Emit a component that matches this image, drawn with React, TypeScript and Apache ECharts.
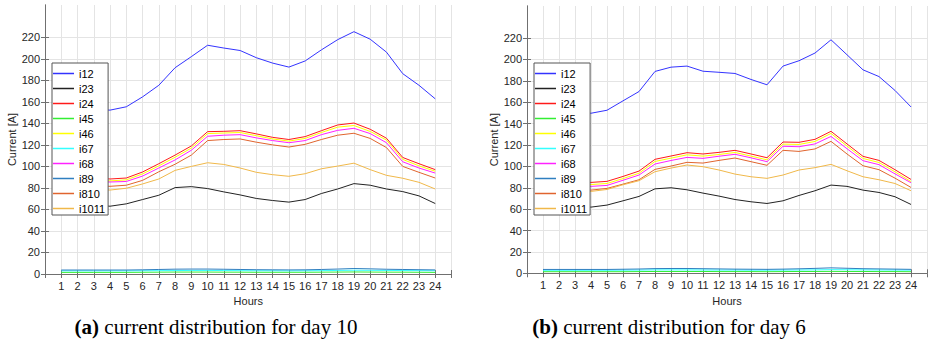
import React, { useEffect, useRef } from 'react';
import * as echarts from 'echarts';

const hours = [1, 2, 3, 4, 5, 6, 7, 8, 9, 10, 11, 12, 13, 14, 15, 16, 17, 18, 19, 20, 21, 22, 23, 24];
const yTicks = [0, 20, 40, 60, 80, 100, 120, 140, 160, 180, 200, 220];
const seriesNames = ['i12', 'i23', 'i24', 'i45', 'i46', 'i67', 'i68', 'i89', 'i810', 'i1011'];
const seriesColors = ['#3333ff', '#222222', '#ff1a1a', '#33ee33', '#ffff00', '#33ffff', '#ff22ff', '#2f7fc0', '#e0642e', '#f0b84a'];
const captions = ['current distribution for day 10', 'current distribution for day 6'];
const captionTags = ['(a)', '(b)'];

// Day 10
const d10_i12 = [160, 156, 153, 152.3, 155.4, 164.6, 175.4, 191.7, 202, 212.6, 210, 207.7, 201, 196, 192.3, 198, 208.3, 217.8, 225.2, 218.2, 206.2, 186.2, 175.4, 162.8];
const d10_i23 = [68, 66, 64, 63, 65.2, 69.2, 73.2, 80.3, 81.2, 79.4, 76.3, 73.5, 70.2, 68.3, 66.8, 69.2, 74.8, 79, 84, 82.5, 79, 76.6, 72.6, 65.5];
const d10_i24 = [93, 91, 89.5, 88.3, 89.2, 94.8, 102.5, 110.5, 119, 132.3, 132.6, 133.2, 130.2, 127, 125, 127.7, 133.2, 138.5, 140.3, 134.5, 126.2, 108.3, 102.5, 97];
const d10_i45 = [1.5, 1.5, 1.5, 1.5, 1.5, 1.6, 1.7, 1.8, 1.8, 1.8, 1.7, 1.7, 1.6, 1.6, 1.6, 1.6, 1.7, 1.8, 1.9, 1.8, 1.7, 1.7, 1.6, 1.5];
const d10_i46 = [91, 89, 87.5, 86.5, 87.5, 93, 100.5, 108.5, 117, 130.5, 131, 131.5, 128.5, 125.5, 123.5, 126, 131.5, 136.5, 138, 132.5, 124.5, 106.5, 100.5, 95.5];
const d10_i67 = [2.9, 2.9, 2.9, 2.9, 2.9, 3.0, 3.1, 3.2, 3.3, 3.3, 3.2, 3.1, 3.0, 3.0, 2.9, 3.0, 3.1, 3.3, 3.5, 3.4, 3.3, 3.2, 3.1, 3.0];
const d10_i68 = [89.5, 87.5, 86, 85.5, 86, 91, 98.5, 106, 115, 128, 129, 129.5, 126.5, 124, 122, 124, 129.5, 133.5, 135.4, 130.5, 122, 104.3, 98.5, 93.8];
const d10_i89 = [3.7, 3.7, 3.7, 3.7, 3.7, 3.9, 4.2, 4.5, 4.6, 4.6, 4.4, 4.2, 4.0, 3.9, 3.8, 3.9, 4.2, 4.6, 5.1, 4.8, 4.4, 4.2, 4.0, 3.8];
const d10_i810 = [85, 83.5, 82, 81.5, 82.5, 87, 95, 102, 110.5, 124, 125, 125.5, 122.5, 120, 118, 120.5, 125, 129, 130.8, 126, 117.5, 100, 94.5, 89.2];
const d10_i1011 = [82, 80, 79, 78, 79.7, 83.7, 88.3, 96.3, 100, 103.4, 101.8, 98.5, 94.5, 92.3, 90.8, 93.2, 97.8, 100.3, 103, 97, 91.7, 89, 85.2, 79];

// Day 6
const d6_i12 = [156, 152, 150, 149.7, 152.5, 161.3, 170, 188.8, 192.8, 193.8, 189, 188, 186.9, 181.3, 176.3, 193.8, 198.8, 206, 218.4, 204.4, 190.3, 184, 171, 155.6];
const d6_i23 = [66, 64, 62.5, 61.9, 63.8, 67.8, 71.9, 79, 80, 78.1, 75, 72.2, 69, 66.9, 65.3, 67.8, 72.8, 77.2, 82.5, 81.3, 77.8, 75.6, 71.6, 64.4];
const d6_i24 = [89, 87, 85.5, 85, 86, 90.6, 95.6, 106.6, 109.7, 112.8, 111.6, 113.1, 115, 111.6, 108.1, 122.8, 122.5, 125.3, 132.8, 121, 109.4, 105.6, 96.9, 87.8];
const d6_i45 = [1.5, 1.5, 1.5, 1.5, 1.5, 1.5, 1.6, 1.7, 1.7, 1.7, 1.7, 1.6, 1.6, 1.6, 1.5, 1.6, 1.7, 1.7, 1.8, 1.7, 1.7, 1.6, 1.6, 1.5];
const d6_i46 = [87, 85, 83.5, 83, 84, 88.6, 93.6, 104.6, 107.7, 110.8, 109.6, 111.1, 113, 109.6, 106.1, 120.8, 120.5, 123.3, 130.8, 119, 107.4, 103.6, 94.9, 85.8];
const d6_i67 = [2.8, 2.8, 2.8, 2.8, 2.8, 2.9, 3.0, 3.2, 3.2, 3.2, 3.1, 3.0, 3.0, 2.9, 2.9, 3.0, 3.1, 3.2, 3.4, 3.3, 3.2, 3.1, 3.0, 2.9];
const d6_i68 = [85, 83, 81.8, 81.3, 82.2, 87, 91.9, 102.2, 105.5, 108.4, 107.5, 109.5, 111.3, 108, 104.4, 118.8, 118.4, 121, 128, 116.5, 105.3, 101.6, 93, 84.7];
const d6_i89 = [3.6, 3.6, 3.6, 3.6, 3.6, 3.8, 4.0, 4.4, 4.5, 4.5, 4.3, 4.1, 3.9, 3.8, 3.7, 3.9, 4.2, 4.6, 5.1, 4.7, 4.3, 4.1, 3.9, 3.7];
const d6_i810 = [81, 79.5, 78.3, 77.8, 79.4, 83.4, 87.5, 97.2, 100.3, 103.8, 103.1, 105.6, 107.8, 104.4, 101, 115, 114, 116.3, 123.4, 111.6, 100.6, 96.9, 89, 80.3];
const d6_i1011 = [80, 78, 77, 76.6, 78.4, 82.8, 86.6, 95, 98.4, 101.3, 99.7, 96.6, 92.8, 90.3, 88.8, 91.9, 96.6, 98.8, 101.9, 95.9, 90.3, 87.5, 84, 77.2];

const day10 = [d10_i12, d10_i23, d10_i24, d10_i45, d10_i46, d10_i67, d10_i68, d10_i89, d10_i810, d10_i1011];
const day6 = [d6_i12, d6_i23, d6_i24, d6_i45, d6_i46, d6_i67, d6_i68, d6_i89, d6_i810, d6_i1011];

const FONT = '"Liberation Sans", Arial, Helvetica, sans-serif';
const SERIF = '"Liberation Serif", "Times New Roman", serif';
const AXIS_COLOR = '#707070';
const TEXT_COLOR = '#262626';
const GRID_COLOR = '#e4e4e4';

function buildOption() {
  const grids = [
    { left: 45, top: 5, width: 406.5, height: 269 },
    { left: 527, top: 6, width: 406, height: 267.3 },
  ];
  const splitColors = yTicks.map(() => GRID_COLOR).concat(['rgba(0,0,0,0)', 'rgba(0,0,0,0)']);
  const xAxes: any[] = [];
  const yAxes: any[] = [];
  grids.forEach((_, gi) => {
    xAxes.push({
      type: 'value', gridIndex: gi, min: 0, max: 25, interval: 1, position: 'bottom',
      name: 'Hours', nameLocation: 'middle', nameGap: 21,
      nameTextStyle: { color: TEXT_COLOR, fontSize: 11, fontFamily: FONT },
      axisLine: { show: true, lineStyle: { color: AXIS_COLOR, width: 1 } },
      axisTick: { show: true, inside: true, length: 4, lineStyle: { color: AXIS_COLOR } },
      axisLabel: {
        color: TEXT_COLOR, fontSize: 11, fontFamily: FONT, margin: 6,
        formatter: (v: number) => (v >= 1 && v <= 24 ? String(v) : ''),
      },
      splitLine: { show: true, lineStyle: { color: GRID_COLOR, width: 1 } },
    });
    xAxes.push({
      type: 'value', gridIndex: gi, min: 0, max: 25, interval: 1, position: 'top',
      axisLine: { show: true, lineStyle: { color: AXIS_COLOR, width: 1 } },
      axisTick: { show: true, inside: true, length: 4, lineStyle: { color: AXIS_COLOR } },
      axisLabel: { show: false },
      splitLine: { show: false },
    });
    yAxes.push({
      type: 'value', gridIndex: gi, min: 0, max: 250, interval: 20, position: 'left',
      name: 'Current [A]', nameLocation: 'middle', nameGap: 26, nameRotate: 90,
      nameTextStyle: { color: TEXT_COLOR, fontSize: 11, fontFamily: FONT },
      axisLine: { show: true, lineStyle: { color: AXIS_COLOR, width: 1 } },
      axisTick: { show: true, inside: true, length: 4, lineStyle: { color: AXIS_COLOR }, customValues: yTicks },
      axisLabel: {
        color: TEXT_COLOR, fontSize: 11, fontFamily: FONT, margin: 5, customValues: yTicks,
        formatter: (v: number) => (v <= 220 ? String(v) : ''),
      },
      splitLine: { show: true, lineStyle: { color: splitColors, width: 1 } },
    });
    yAxes.push({
      type: 'value', gridIndex: gi, min: 0, max: 250, interval: 20, position: 'right',
      axisLine: { show: true, lineStyle: { color: AXIS_COLOR, width: 1 } },
      axisTick: { show: true, inside: true, length: 4, lineStyle: { color: AXIS_COLOR }, customValues: yTicks },
      axisLabel: { show: false },
      splitLine: { show: false },
    });
  });

  const series: any[] = [];
  [day10, day6].forEach((day, gi) => {
    day.forEach((vals, si) => {
      series.push({
        type: 'line', name: seriesNames[si],
        xAxisIndex: gi * 2, yAxisIndex: gi * 2,
        data: hours.map((h, i) => [h, vals[i]]),
        symbol: 'none', showSymbol: false,
        lineStyle: { color: seriesColors[si], width: 1 },
        itemStyle: { color: seriesColors[si] },
        z: 2,
      });
    });
  });

  const legendBase = {
    orient: 'vertical', top: 63,
    data: seriesNames,
    icon: 'rect',
    itemWidth: 21, itemHeight: 1.5, itemGap: 4,
    padding: [5, 3, 1, 1],
    backgroundColor: '#ffffff', borderColor: '#555555', borderWidth: 1,
    textStyle: { color: '#000000', fontSize: 11, fontFamily: FONT, lineHeight: 11, height: 11 },
    selectedMode: false,
    z: 10,
  };

  return {
    animation: false,
    backgroundColor: '#ffffff',
    grid: grids,
    xAxis: xAxes,
    yAxis: yAxes,
    legend: [
      { ...legendBase, left: 52 },
      { ...legendBase, left: 534 },
    ],
    series,
    graphic: [0, 1].map((i) => ({
      type: 'text',
      x: i === 0 ? 216 : 669,
      y: 327,
      style: {
        text: '{b|' + captionTags[i] + '} ' + captions[i],
        rich: { b: { fontWeight: 'bold', fontFamily: SERIF, fontSize: 21, fill: '#000' } },
        fontFamily: SERIF,
        fontSize: 21,
        fill: '#000',
        textAlign: 'center',
        textVerticalAlign: 'middle',
      },
    })),
  };
}

export default function App() {
  const ref = useRef<HTMLDivElement>(null);
  useEffect(() => {
    if (!ref.current) return;
    const chart = echarts.init(ref.current, undefined, { renderer: 'svg' });
    chart.setOption(buildOption() as any);
    return () => chart.dispose();
  }, []);
  return (
    <div
      ref={ref}
      style={{ position: 'fixed', left: 0, top: 0, width: 930, height: 352, background: '#fff' }}
    />
  );
}
